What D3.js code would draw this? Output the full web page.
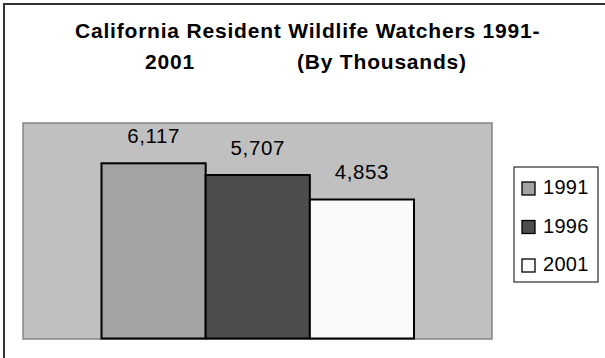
<!DOCTYPE html>
<html>
<head>
<meta charset="utf-8">
<script src="https://cdn.jsdelivr.net/npm/d3@7"></script>
<style>
  body { margin: 0; background: #fff; }
  svg { display: block; font-family: Arial, "Liberation Sans", sans-serif; }
</style>
</head>
<body>
<script>
// chart values
const years = ["1991", "1996", "2001"];
const watchers = [6117, 5707, 4853];
const titleLine1 = "California Resident Wildlife Watchers 1991-";
const titleLine2 = ["2001", "(By Thousands)"];
const fills = ["#a3a3a3", "#4d4d4d", "#fafafa"];

const width = 605, height = 358;

const svg = d3.select("body").append("svg")
  .attr("width", width)
  .attr("height", height);

// outer frame (only top + left visible)
svg.append("path")
  .attr("d", "M4,400 L4,4 L700,4")
  .attr("fill", "none")
  .attr("stroke", "#333")
  .attr("stroke-width", 2);

// title
const titleStyle = sel => sel
  .style("font-size", "21px")
  .style("font-weight", "bold")
  .style("letter-spacing", "0.8px");

svg.append("text")
  .attr("x", 75)
  .attr("y", 38)
  .call(titleStyle)
  .text(titleLine1);
svg.append("text")
  .attr("x", 145)
  .attr("y", 68.5)
  .call(titleStyle)
  .text(titleLine2[0]);
svg.append("text")
  .attr("x", 297)
  .attr("y", 68.5)
  .call(titleStyle)
  .text(titleLine2[1]);

// plot area
svg.append("rect")
  .attr("x", 23)
  .attr("y", 123)
  .attr("width", 469)
  .attr("height", 216)
  .attr("fill", "#c0c0c0")
  .attr("stroke", "#858585")
  .attr("stroke-width", 1.5);

const x = d3.scaleBand()
  .domain(years)
  .range([101.5, 414])
  .padding(0);

const y = d3.scaleLinear()
  .domain([0, 7000])
  .range([338.5, 138]);

const bars = svg.append("g");

bars.selectAll("rect")
  .data(years)
  .enter()
    .append("rect")
    .attr("x", d => x(d))
    .attr("y", (d, i) => y(watchers[i]))
    .attr("width", x.bandwidth())
    .attr("height", (d, i) => y(0) - y(watchers[i]))
    .attr("fill", (d, i) => fills[i])
    .attr("stroke", "#000")
    .attr("stroke-width", 2);

bars.selectAll("text")
  .data(years)
  .enter()
    .append("text")
    .attr("x", d => x(d) + x.bandwidth() / 2)
    .attr("y", (d, i) => y(watchers[i]) - 20.5)
    .attr("text-anchor", "middle")
    .style("font-size", "20.5px")
    .style("letter-spacing", "0.6px")
    .text((d, i) => d3.format(",")(watchers[i]));

// legend
const legend = svg.append("g");
legend.append("rect")
  .attr("x", 514)
  .attr("y", 167)
  .attr("width", 84)
  .attr("height", 115)
  .attr("fill", "#fff")
  .attr("stroke", "#000")
  .attr("stroke-width", 1);

const items = legend.selectAll(".item")
  .data(years)
  .enter()
    .append("g")
    .attr("class", "item")
    .attr("transform", (d, i) => "translate(0," + (194 + i * 38.5) + ")");

items.append("rect")
  .attr("x", 522)
  .attr("y", -12)
  .attr("width", 13)
  .attr("height", 13)
  .attr("fill", (d, i) => fills[i])
  .attr("stroke", "#000")
  .attr("stroke-width", 1.3);

items.append("text")
  .attr("x", 543)
  .attr("y", 0)
  .style("font-size", "20px")
  .style("letter-spacing", "0.3px")
  .text(d => d);
</script>
</body>
</html>
